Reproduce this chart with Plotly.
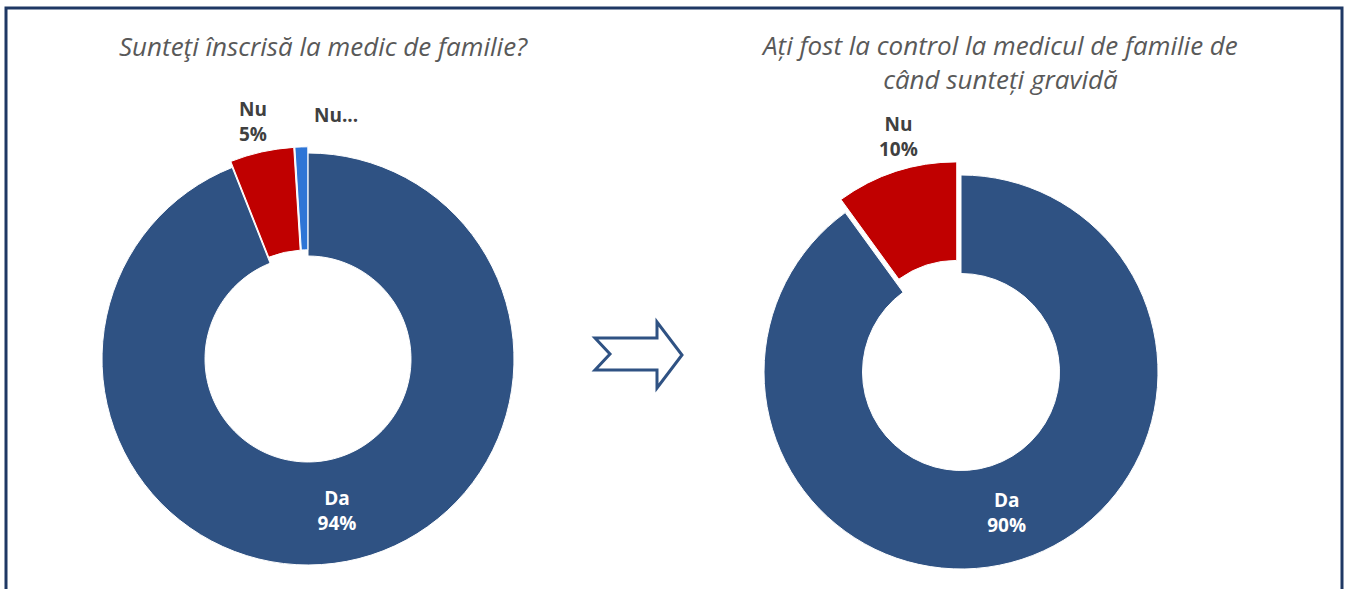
import plotly.graph_objects as go

W, H = 1347, 589

left_labels = ["Da", "Nu", "Nu..."]
left_values = [94, 5, 1]
right_labels = ["Da", "Nu"]
right_values = [90, 10]

title_left = "Sunteţi înscrisă la medic de familie?"
title_right = "Ați fost la control la medicul de familie de<br>când sunteți gravidă"

DA = "#2F5283"
NU = "#C00000"
NUS = "#2E75D6"
FONT = "Open Sans"
LBL = 19

TT = "<b>%{label}</b><br><b>%{percent:.0%}</b>"


def dom(cx, cy, r, pull):
    h = r * (1 + pull)
    return dict(x=[(cx - h) / W, (cx + h) / W],
                y=[(H - cy - h) / H, (H - cy + h) / H])


def px(x, y):
    return x / W, 1 - y / H


fig = go.Figure()
fig.add_trace(go.Pie(
    labels=left_labels, values=left_values, hole=0.5, sort=False,
    direction="clockwise", rotation=0,
    pull=[0, 0.03, 0.03],
    marker=dict(colors=[DA, NU, NUS], line=dict(color="white", width=1)),
    texttemplate=TT,
    textposition=["inside", "none", "none"],
    insidetextorientation="horizontal",
    insidetextfont=dict(family=FONT, size=LBL, color="white"),
    domain=dom(308, 359, 206, 0.03),
    showlegend=False, hoverinfo="label+percent",
))
fig.add_trace(go.Pie(
    labels=right_labels, values=right_values, hole=0.5, sort=False,
    direction="clockwise", rotation=0,
    pull=[0, 0.07],
    marker=dict(colors=[DA, NU], line=dict(color="white", width=1)),
    texttemplate=TT,
    textposition=["inside", "none"],
    insidetextorientation="horizontal",
    insidetextfont=dict(family=FONT, size=LBL, color="white"),
    domain=dom(961, 372, 197, 0.07),
    showlegend=False, hoverinfo="label+percent",
))

# outside labels of the small slices
tot_l = sum(left_values)
tot_r = sum(right_values)
outside = [
    ((253, 121), f"<b>{left_labels[1]}</b><br><b>{round(100 * left_values[1] / tot_l)}%</b>"),
    ((336, 115), f"<b>{left_labels[2]}</b>"),
    ((898, 137), f"<b>{right_labels[1]}</b><br><b>{round(100 * right_values[1] / tot_r)}%</b>"),
]
for (x, y), t in outside:
    ax, ay = px(x, y)
    fig.add_annotation(x=ax, y=ay, xref="paper", yref="paper", text=t,
                       showarrow=False, xanchor="center", yanchor="middle",
                       font=dict(family=FONT, size=LBL, color="#404040"))

# arrow (decorative)
pts = [(595, 338), (657, 338), (657, 322), (682, 355), (657, 388),
       (657, 370), (595, 370), (610, 354)]
path = "M " + " L ".join("{:.5f},{:.5f}".format(*px(x, y)) for x, y in pts) + " Z"
fig.add_shape(type="path", xref="paper", yref="paper", path=path,
              line=dict(color="#2F5283", width=3), fillcolor="white")

# border
fig.add_shape(type="rect", xref="paper", yref="paper",
              x0=6 / W, x1=1342 / W, y0=-0.05, y1=1 - 8 / H,
              line=dict(color="#1F3864", width=3))

ax, ay = px(323, 46)
fig.add_annotation(x=ax, y=ay, xref="paper", yref="paper",
                   text=f"<i>{title_left}</i>", showarrow=False,
                   xanchor="center", yanchor="middle",
                   font=dict(family=FONT, size=26, color="#595959"))
ax, ay = px(1000, 62)
fig.add_annotation(x=ax, y=ay, xref="paper", yref="paper",
                   text=f"<i>{title_right}</i>", showarrow=False,
                   xanchor="center", yanchor="middle",
                   font=dict(family=FONT, size=26, color="#595959"))

fig.update_layout(width=W, height=H, margin=dict(l=0, r=0, t=0, b=0),
                  paper_bgcolor="white", plot_bgcolor="white")
fig.write_html("out.html", config={"displayModeBar": False},
               post_script="document.body.style.margin='0px';"
                           "document.body.style.overflow='hidden';")
